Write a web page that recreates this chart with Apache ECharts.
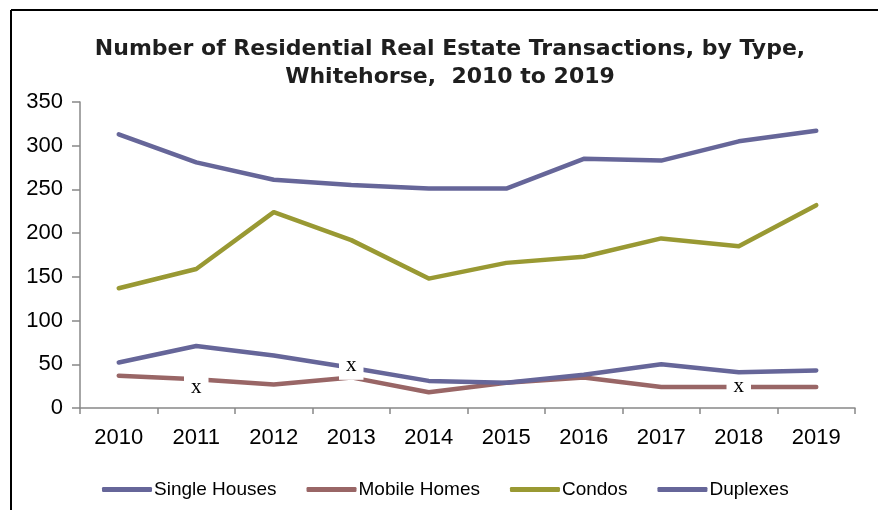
<!DOCTYPE html>
<html>
<head>
<meta charset="utf-8">
<script src="https://cdn.jsdelivr.net/npm/echarts@6/dist/echarts.min.js"></script>
<style>
html,body{margin:0;padding:0;background:#fff;}
#chart{width:878px;height:510px;}
</style>
</head>
<body>
<div id="chart"></div>
<script>
const years = ['2010','2011','2012','2013','2014','2015','2016','2017','2018','2019'];
const singleHouses = [313, 281, 261, 255, 251, 251, 285, 283, 305, 317];
const mobileHomes = [37, 33, 27, 35, 18, 29, 35, 24, 24, 24];
const condos = [137, 159, 224, 192, 148, 166, 173, 194, 185, 232];
const duplexes = [52, 71, 60, 46, 31, 29, 38, 50, 41, 43];
const mobileSuppressed = [1, 8];
const duplexSuppressed = [3];
const yTicks = [0, 50, 100, 150, 200, 250, 300, 350];

const purple = '#666699', brown = '#996666', olive = '#999933';

function withX(values, idx, offsets) {
  return values.map((v, i) => idx.includes(i) ? {
    value: v,
    label: {
      show: true, formatter: 'x', position: 'inside', offset: offsets[idx.indexOf(i)],
      fontFamily: 'Liberation Serif', fontSize: 21, color: '#000',
      backgroundColor: '#fff', padding: [6, 7, 4, 7], lineHeight: 18
    }
  } : v);
}

function lineSeries(name, data, color, z) {
  return {
    name: name, type: 'line', data: data, symbol: 'circle', symbolSize: 0, showSymbol: true,
    lineStyle: { width: 4.5, color: color, cap: 'round', join: 'round' },
    itemStyle: { color: color }, animation: false, silent: true, z: z
  };
}

const chart = echarts.init(document.getElementById('chart'), null, { renderer: 'canvas' });
chart.setOption({
  backgroundColor: '#fff',
  animation: false,
  title: {
    text: 'Number of Residential Real Estate Transactions, by Type,\nWhitehorse,  2010 to 2019',
    left: 445, textAlign: 'center', top: 30,
    textStyle: { fontFamily: 'DejaVu Sans', fontWeight: 'bold', fontSize: 22, lineHeight: 28, color: '#1e1e1e' }
  },
  graphic: [
    { type: 'line', shape: { x1: 11, y1: 10, x2: 878, y2: 10 }, style: { stroke: '#000', lineWidth: 2 } },
    { type: 'line', shape: { x1: 11, y1: 10, x2: 11, y2: 510 }, style: { stroke: '#000', lineWidth: 2 } }
  ],
  legend: {
    top: 475, left: 97, itemWidth: 50, itemHeight: 5, itemGap: 30, icon: 'roundRect',
    textStyle: { fontFamily: 'Liberation Sans', fontSize: 19, color: '#000', padding: [0, 0, 0, -3] },
    data: ['Single Houses', 'Mobile Homes', 'Condos', 'Duplexes']
  },
  grid: { left: 80, right: 23, top: 102, bottom: 102, containLabel: false },
  xAxis: {
    type: 'category', data: years, boundaryGap: true,
    axisLine: { lineStyle: { color: '#888', width: 1.5 } },
    axisTick: { show: true, length: 6, lineStyle: { color: '#888', width: 1.5 } },
    axisLabel: { fontFamily: 'Liberation Sans', fontSize: 22, color: '#000', margin: 19 }
  },
  yAxis: {
    type: 'value', min: 0, max: 350, interval: 50,
    axisLine: { show: true, lineStyle: { color: '#888', width: 1.5 } },
    axisTick: { show: true, length: 8, lineStyle: { color: '#888', width: 1.5 } },
    splitLine: { show: false },
    axisLabel: { fontFamily: 'Liberation Sans', fontSize: 22, color: '#000', margin: 17,
      formatter: v => yTicks.includes(v) ? String(v) : '' }
  },
  series: [
    lineSeries('Single Houses', singleHouses, purple, 2),
    lineSeries('Mobile Homes', withX(mobileHomes, mobileSuppressed, [[0, 8], [0, -1]]), brown, 2),
    lineSeries('Condos', condos, olive, 2),
    lineSeries('Duplexes', withX(duplexes, duplexSuppressed, [[0, -2]]), purple, 3)
  ]
});
</script>
</body>
</html>
